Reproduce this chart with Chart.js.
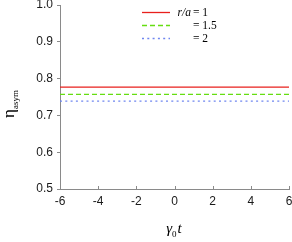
<!DOCTYPE html>
<html>
<head>
<meta charset="utf-8">
<script src="https://cdn.jsdelivr.net/npm/chart.js@4/dist/chart.umd.min.js"></script>
<style>
  html, body { margin: 0; padding: 0; background: #fff; }
  #wrap { width: 292px; height: 242px; }
</style>
</head>
<body>
<div id="wrap"><canvas id="c" width="292" height="242"></canvas></div>
<script>
// ----------- Dane -----------
const times = [-6, -4, -2, 0, 2, 4, 6];
const etaR1 = [0.777, 0.777, 0.777, 0.777, 0.777, 0.777, 0.777];
const etaR15 = [0.757, 0.757, 0.757, 0.757, 0.757, 0.757, 0.757];
const etaR2 = [0.739, 0.739, 0.739, 0.739, 0.739, 0.739, 0.739];
const ratioLabels = ['1', '1.5', '2'];
const xTicks = [-6, -4, -2, 0, 2, 4, 6];
const yTicks = [0.5, 0.6, 0.7, 0.8, 0.9, 1.0];

const pts = (ys) => times.map((t, i) => ({ x: t, y: ys[i] }));
const AXIS = '#8a8a8a';
const SERIF = '"Liberation Serif", "DejaVu Serif", serif';
const SANS = '"Liberation Sans", Arial, sans-serif';

// legenda, kreski osi X (do środka), tytuły osi z indeksami
const labelsPlugin = {
    id: 'labels',
    afterDraw(chart) {
        const ctx = chart.ctx;
        const xs = chart.scales.x, area = chart.chartArea;
        ctx.save();

        // kreski osi X skierowane do wnętrza
        ctx.strokeStyle = AXIS;
        ctx.lineWidth = 1;
        xTicks.forEach(v => {
            const px = Math.round(xs.getPixelForValue(v)) + 0.5;
            ctx.beginPath();
            ctx.moveTo(px, area.bottom);
            ctx.lineTo(px, area.bottom - 3);
            ctx.stroke();
        });

        ctx.fillStyle = '#000';
        ctx.textBaseline = 'alphabetic';

        // legenda
        const styles = [
            { color: '#e8201c', dash: [] },
            { color: '#66dd11', dash: [5, 3] },
            { color: '#6f86f0', dash: [2, 3.3] }
        ];
        const rows = [12, 25, 38];
        styles.forEach((s, i) => {
            ctx.strokeStyle = s.color;
            ctx.lineWidth = 1.3;
            ctx.setLineDash(s.dash);
            ctx.beginPath();
            ctx.moveTo(142, rows[i] + 0.5);
            ctx.lineTo(170, rows[i] + 0.5);
            ctx.stroke();
        });
        ctx.setLineDash([]);
        ctx.font = 'italic 11.5px ' + SERIF;
        ctx.textAlign = 'right';
        ctx.fillText('r/a', 191, rows[0] + 4);
        ctx.font = '11.5px ' + SERIF;
        ctx.textAlign = 'left';
        ratioLabels.forEach((r, i) => ctx.fillText('= ' + r, 193, rows[i] + 4));

        // oś X: γ0t
        const big = 'italic 15px ' + SERIF, small = '9px ' + SERIF;
        ctx.font = big; const wg = ctx.measureText('γ').width, wt = ctx.measureText('t').width;
        ctx.font = small; const w0 = ctx.measureText('0').width;
        let x = 174 - (wg + w0 + wt + 1) / 2;
        ctx.font = big; ctx.fillText('γ', x, 233); x += wg;
        ctx.font = small; ctx.fillText('0', x, 237); x += w0 + 1;
        ctx.font = big; ctx.fillText('t', x, 233);

        // oś Y: η_asym
        ctx.translate(14, 104);
        ctx.rotate(-Math.PI / 2);
        const eta = '17px ' + SERIF, sub = '9px ' + SERIF;
        ctx.font = eta; const we = ctx.measureText('η').width;
        ctx.font = sub; const ws = ctx.measureText('asym').width;
        let y0 = -(we + ws) / 2;
        ctx.font = eta; ctx.fillText('η', y0, 0);
        ctx.font = sub; ctx.fillText('asym', y0 + we, 4);
        ctx.restore();
    }
};

new Chart(document.getElementById('c'), {
    type: 'line',
    data: {
        datasets: [
            { data: pts(etaR1), borderColor: '#e8201c', borderWidth: 1.3, pointRadius: 0, fill: false },
            { data: pts(etaR15), borderColor: '#66dd11', borderWidth: 1.3, borderDash: [5, 3], pointRadius: 0, fill: false },
            { data: pts(etaR2), borderColor: '#6f86f0', borderWidth: 1.3, borderDash: [2, 3.3], pointRadius: 0, fill: false }
        ]
    },
    options: {
        responsive: false,
        animation: false,
        layout: { padding: { top: 5, right: 3, left: 0, bottom: 0 } },
        plugins: { legend: { display: false }, tooltip: { enabled: false } },
        scales: {
            x: {
                type: 'linear', min: -6, max: 6,
                afterBuildTicks: (s) => { s.ticks = xTicks.map(v => ({ value: v })); },
                afterFit: (s) => { s.height = 53; s.paddingLeft = 0; s.paddingRight = 0; },
                border: { display: true, color: AXIS, width: 1 },
                grid: { display: false, drawOnChartArea: false, drawTicks: false },
                ticks: { color: '#1a1a1a', padding: 5, maxRotation: 0, font: { family: SANS, size: 12 },
                         callback: (v) => String(v) }
            },
            y: {
                min: 0.5, max: 1.0,
                afterBuildTicks: (s) => { s.ticks = yTicks.map(v => ({ value: v })); },
                afterFit: (s) => { s.width = 60; s.paddingTop = 0; s.paddingBottom = 0; },
                border: { display: true, color: AXIS, width: 1 },
                grid: { display: true, drawOnChartArea: false, drawTicks: true, tickLength: 3, color: AXIS },
                ticks: { color: '#1a1a1a', padding: 4, font: { family: SANS, size: 12 },
                         callback: (v) => v.toFixed(1) }
            }
        }
    },
    plugins: [labelsPlugin]
});
</script>
</body>
</html>
